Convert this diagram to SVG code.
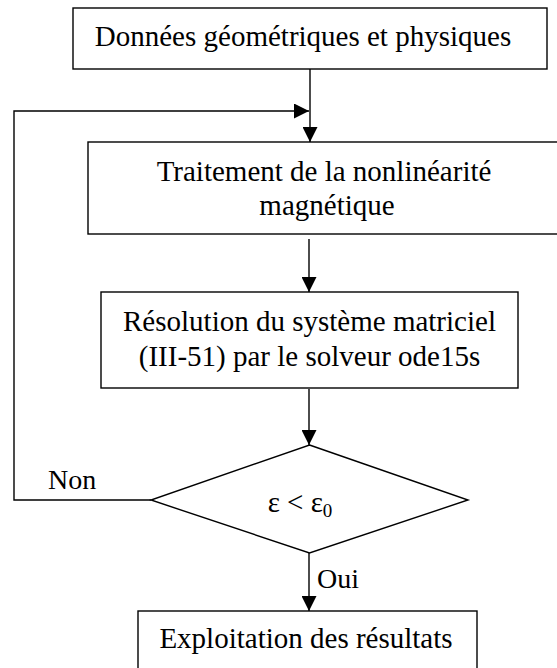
<svg xmlns="http://www.w3.org/2000/svg" width="557" height="668" viewBox="0 0 557 668">
<style>
.box{fill:#fff;stroke:#000;stroke-width:1.4}
.ln{fill:none;stroke:#000;stroke-width:1.4}
.t{font-family:'Liberation Serif','Times New Roman',Times,serif;font-size:29px;fill:#000;text-anchor:middle}
.lbl{font-family:'Liberation Serif','Times New Roman',Times,serif;font-size:28px;fill:#000}
</style>
<defs>
<marker id="ah" viewBox="0 0 15 15" refX="15" refY="7.5" markerWidth="15" markerHeight="15" markerUnits="userSpaceOnUse" orient="auto">
<path d="M0,0 L15,7.5 L0,15 z" fill="#000"/>
</marker>
</defs>
<rect width="557" height="668" fill="#fff"/>
<g id="connectors">
<line class="ln" x1="310" y1="69" x2="310" y2="142" marker-end="url(#ah)"/>
<polyline class="ln" points="151,500 14,500 14,111 309,111" marker-end="url(#ah)"/>
<line class="ln" x1="309" y1="239" x2="309" y2="292" marker-end="url(#ah)"/>
<line class="ln" x1="309" y1="389" x2="309" y2="445" marker-end="url(#ah)"/>
<line class="ln" x1="309" y1="553" x2="309" y2="611" marker-end="url(#ah)"/>
</g>
<g id="n1">
<rect class="box" x="73" y="8" width="474" height="61"/>
<text class="t" x="303" y="46" font-family="Liberation Serif, serif">Données géométriques et physiques</text>
</g>
<g id="n2">
<rect class="box" x="88" y="142" width="475" height="92"/>
<text class="t" x="324" y="181">Traitement de la nonlinéarité</text>
<text class="t" x="327" y="215">magnétique</text>
</g>
<g id="n3">
<rect class="box" x="101" y="292" width="417" height="96"/>
<text class="t" x="309.5" y="331">Résolution du système matriciel</text>
<text class="t" x="309.5" y="366">(III-51) par le solveur ode15s</text>
</g>
<g id="n4">
<polygon class="box" points="309.5,445 468,500 309.5,553 151,500"/>
<text class="t" x="300" y="512">ε &lt; ε<tspan font-size="19" dy="5">0</tspan></text>
</g>
<g id="n5">
<rect class="box" x="138" y="611" width="339" height="70"/>
<text class="t" x="306" y="648">Exploitation des résultats</text>
</g>
<g id="labels">
<text class="lbl" x="48" y="489">Non</text>
<text class="lbl" x="317" y="588">Oui</text>
</g>
</svg>
